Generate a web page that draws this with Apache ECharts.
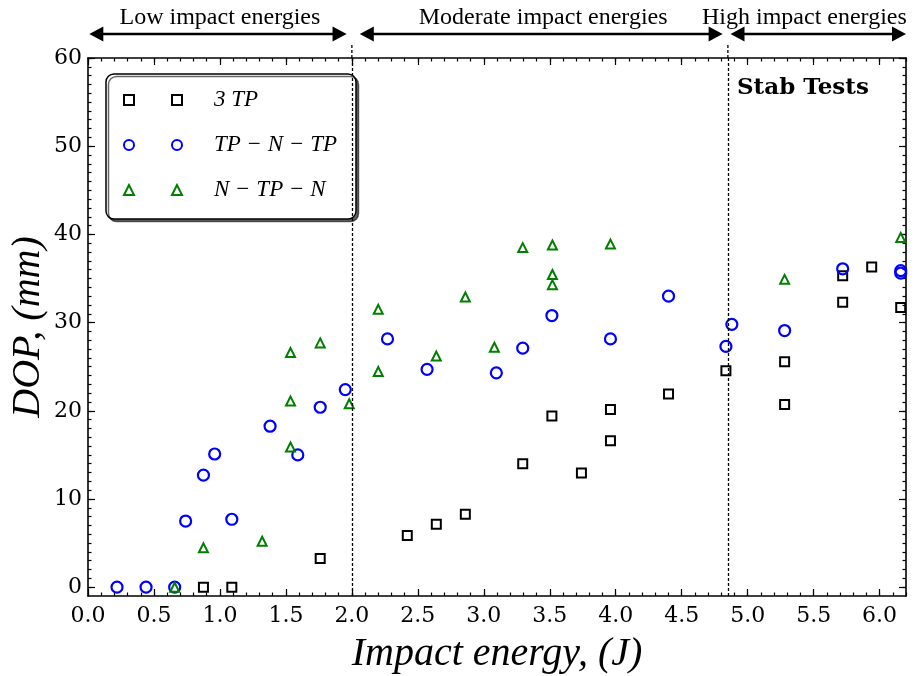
<!DOCTYPE html>
<html>
<head>
<meta charset="utf-8">
<script src="https://cdn.jsdelivr.net/npm/echarts@6/dist/echarts.min.js"></script>
<style>
  html, body { margin: 0; padding: 0; background: #fff; }
  #myChart { width: 916px; height: 676px; }
</style>
</head>
<body>
<div id="myChart"></div>
<script>
// 3TP (black squares)
var tp3X = [0.875, 1.09, 1.76, 2.42, 2.64, 2.86, 3.295, 3.516, 3.74, 3.96, 3.96, 4.40, 4.835, 5.28, 5.28, 5.72, 5.72, 5.94, 6.16];
var tp3Y = [0, 0, 3.25, 5.86, 7.14, 8.28, 14.0, 19.4, 12.96, 20.15, 16.6, 21.9, 24.55, 25.55, 20.7, 35.3, 32.3, 36.3, 31.7];
// TP-N-TP (blue circles)
var tpntpX = [0.22, 0.44, 0.657, 0.74, 0.875, 0.96, 1.09, 1.38, 1.59, 1.76, 1.95, 2.27, 2.57, 3.095, 3.295, 3.516, 3.96, 4.40, 4.835, 4.88, 5.28, 5.72, 6.16, 6.16];
var tpntpY = [0, 0, 0, 7.5, 12.7, 15.1, 7.7, 18.25, 15.0, 20.4, 22.4, 28.15, 24.7, 24.3, 27.1, 30.8, 28.15, 33.0, 27.3, 29.8, 29.1, 36.1, 35.9, 35.6];
// N-TP-N (green triangles)
var ntpnX = [0.657, 0.875, 1.32, 1.535, 1.535, 1.535, 1.76, 1.98, 2.2, 2.2, 2.64, 2.86, 3.08, 3.295, 3.52, 3.52, 3.52, 3.96, 5.28, 6.16];
var ntpnY = [0, 4.46, 5.2, 15.9, 21.1, 26.6, 27.7, 20.8, 31.5, 24.45, 26.2, 32.9, 27.2, 38.5, 38.8, 35.45, 34.3, 38.9, 34.9, 39.65];

var seriesNames = ['3 TP', 'TP \u2212 N \u2212 TP', 'N \u2212 TP \u2212 N'];

// tick labels
var xTicks = [0, 0.5, 1.0, 1.5, 2.0, 2.5, 3.0, 3.5, 4.0, 4.5, 5.0, 5.5, 6.0];
var yTicks = [0, 10, 20, 30, 40, 50, 60];

// regions along the top
var regionNames = ['Low impact energies', 'Moderate impact energies', 'High impact energies'];
var regionFrom = [0.01, 2.06, 4.87];
var regionTo = [1.96, 4.81, 6.2];
var regionTextX = [1.0, 3.45, 5.43];
var boundaryX = [2.0, 4.85];

var xMinor = [];
for (var i = 0; i <= 62; i++) xMinor.push(i / 10);
var yMinor = [];
for (var j = 0; j <= 60; j++) yMinor.push(j);

function zip(xs, ys) {
  var out = [];
  for (var k = 0; k < xs.length; k++) out.push([xs[k], ys[k]]);
  return out;
}

var tickFont = { color: '#000', fontFamily: 'DejaVu Serif', fontSize: 22 };

function xAx(pos, major, labels) {
  return {
    type: 'value', min: 0, max: 6.2, position: pos,
    axisLine: { show: major, onZero: false, lineStyle: { color: '#000', width: 1.6 } },
    axisTick: { show: true, inside: true, length: major ? 7 : 3.5,
      customValues: major ? xTicks : xMinor, lineStyle: { color: '#000', width: 1.2 } },
    axisLabel: labels ? Object.assign({ customValues: xTicks, margin: 9,
      formatter: function (v) { return v.toFixed(1); } }, tickFont) : { show: false },
    splitLine: { show: false }
  };
}
function yAx(pos, major, labels) {
  return {
    type: 'value', min: -1, max: 60, position: pos,
    axisLine: { show: major, onZero: false, lineStyle: { color: '#000', width: 1.6 } },
    axisTick: { show: true, inside: true, length: major ? 7 : 3.5,
      customValues: major ? yTicks : yMinor, lineStyle: { color: '#000', width: 1.2 } },
    axisLabel: labels ? Object.assign({ customValues: yTicks, margin: 6 }, tickFont) : { show: false },
    splitLine: { show: false }
  };
}

var xMain = xAx('bottom', true, true);
xMain.name = 'Impact energy, (J)';
xMain.nameLocation = 'middle';
xMain.nameGap = 38;
xMain.nameTextStyle = { fontFamily: 'Liberation Serif', fontStyle: 'italic', fontSize: 40, color: '#000' };
var yMain = yAx('left', true, true);
yMain.name = 'DOP, (mm)';
yMain.nameLocation = 'middle';
yMain.nameGap = 40;
yMain.nameMoveOverlap = false;
yMain.nameTextStyle = { fontFamily: 'Liberation Serif', fontStyle: 'italic', fontSize: 40, color: '#000' };

var myChart = echarts.init(document.getElementById('myChart'));
myChart.setOption({
  animation: false,
  grid: { left: 88, right: 10, top: 58, bottom: 80, containLabel: false, outerBoundsMode: 'none' },
  xAxis: [xMain, xAx('bottom', false, false), xAx('top', true, false), xAx('top', false, false)],
  yAxis: [yMain, yAx('left', false, false), yAx('right', true, false), yAx('right', false, false)],
  legend: {
    left: 123, top: 88, orient: 'vertical', padding: 0, z: 5,
    itemWidth: 58, itemHeight: 10, itemGap: 21, selectedMode: false,
    textStyle: { fontFamily: 'Liberation Serif', fontStyle: 'italic', fontSize: 23,
      color: '#000', lineHeight: 24, padding: [0, 0, 0, 27] },
    data: [
      { name: seriesNames[0], icon: 'path://M0,0h10v10h-10z M48,0h10v10h-10z' },
      { name: seriesNames[1], icon: 'path://M0,5a5,5 0 1,0 10,0a5,5 0 1,0 -10,0z M48,5a5,5 0 1,0 10,0a5,5 0 1,0 -10,0z' },
      { name: seriesNames[2], icon: 'path://M0,10L5,0L10,10z M48,10L53,0L58,10z' }
    ]
  },
  series: [
    {
      name: seriesNames[0], type: 'scatter', symbol: 'rect', symbolSize: 9,
      data: zip(tp3X, tp3Y),
      itemStyle: { color: 'rgba(0,0,0,0)', borderColor: '#000', borderWidth: 2, opacity: 1 },
      markLine: {
        silent: true, symbol: 'none', label: { show: false },
        lineStyle: { color: '#000', type: [3, 2], width: 1.3 },
        data: boundaryX.map(function (v) { return { xAxis: v }; })
      }
    },
    {
      name: seriesNames[1], type: 'scatter', symbol: 'circle', symbolSize: 11,
      data: zip(tpntpX, tpntpY),
      itemStyle: { color: 'rgba(0,0,0,0)', borderColor: '#0000ff', borderWidth: 2.2, opacity: 1 }
    },
    {
      name: seriesNames[2], type: 'scatter', symbol: 'triangle', symbolSize: 9,
      data: zip(ntpnX, ntpnY),
      itemStyle: { color: 'rgba(0,0,0,0)', borderColor: '#007f00', borderWidth: 2, opacity: 1 }
    }
  ]
});

// annotations placed with the chart's own scale
function px(v) { return myChart.convertToPixel({ seriesIndex: 0 }, [v, 0])[0]; }
var g = [];
g.push({
  type: 'rect', z: 1,
  shape: { x: 106, y: 74, width: 250, height: 145, r: 8 },
  style: { fill: '#fff', stroke: '#000', lineWidth: 1.5,
    shadowColor: 'rgba(0,0,0,0.6)', shadowOffsetX: 2.5, shadowOffsetY: 2.5, shadowBlur: 0 }
});
g.push({
  type: 'text', z: 5, x: 737, y: 88,
  style: { text: 'Stab Tests', fontFamily: 'DejaVu Serif', fontWeight: 'bold', fontSize: 23,
    fill: '#000', verticalAlign: 'middle' }
});
var ay = 34, hl = 14, hh = 7.5;
for (var r = 0; r < regionNames.length; r++) {
  var a = px(regionFrom[r]), b = px(regionTo[r]);
  g.push({ type: 'line', shape: { x1: a + 8, y1: ay, x2: b - 8, y2: ay },
    style: { stroke: '#000', lineWidth: 2.5 } });
  g.push({ type: 'polygon', shape: { points: [[a, ay], [a + hl, ay - hh], [a + hl, ay + hh]] },
    style: { fill: '#000' } });
  g.push({ type: 'polygon', shape: { points: [[b, ay], [b - hl, ay - hh], [b - hl, ay + hh]] },
    style: { fill: '#000' } });
  g.push({ type: 'text', x: px(regionTextX[r]), y: 18,
    style: { text: regionNames[r], fontFamily: 'Liberation Serif', fontSize: 24, fill: '#000',
      align: 'center', verticalAlign: 'middle' } });
}
for (var d = 0; d < boundaryX.length; d++) {
  var bx = px(boundaryX[d]);
  g.push({ type: 'line', shape: { x1: bx, y1: 45, x2: bx, y2: 58 },
    style: { stroke: '#000', lineWidth: 1.3, lineDash: [3, 2] } });
}
myChart.setOption({ graphic: g });
</script>
</body>
</html>
